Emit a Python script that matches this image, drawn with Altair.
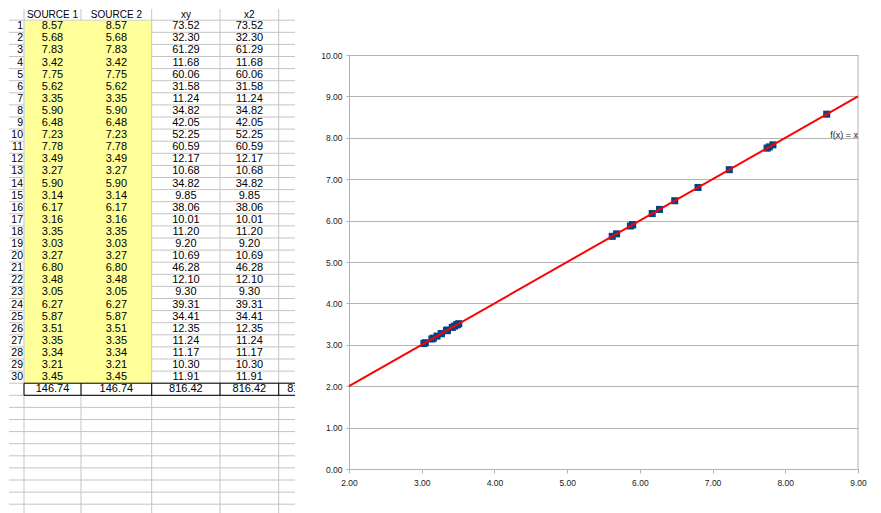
import altair as alt
import pandas as pd

# ---------------- data ----------------
row_numbers = list(range(1, 31))
source1 = [8.57, 5.68, 7.83, 3.42, 7.75, 5.62, 3.35, 5.90, 6.48, 7.23,
           7.78, 3.49, 3.27, 5.90, 3.14, 6.17, 3.16, 3.35, 3.03, 3.27,
           6.80, 3.48, 3.05, 6.27, 5.87, 3.51, 3.35, 3.34, 3.21, 3.45]
source2 = [8.57, 5.68, 7.83, 3.42, 7.75, 5.62, 3.35, 5.90, 6.48, 7.23,
           7.78, 3.49, 3.27, 5.90, 3.14, 6.17, 3.16, 3.35, 3.03, 3.27,
           6.80, 3.48, 3.05, 6.27, 5.87, 3.51, 3.35, 3.34, 3.21, 3.45]
xy = [73.52, 32.30, 61.29, 11.68, 60.06, 31.58, 11.24, 34.82, 42.05, 52.25,
      60.59, 12.17, 10.68, 34.82, 9.85, 38.06, 10.01, 11.20, 9.20, 10.69,
      46.28, 12.10, 9.30, 39.31, 34.41, 12.35, 11.24, 11.17, 10.30, 11.91]
x2 = [73.52, 32.30, 61.29, 11.68, 60.06, 31.58, 11.24, 34.82, 42.05, 52.25,
      60.59, 12.17, 10.68, 34.82, 9.85, 38.06, 10.01, 11.20, 9.20, 10.69,
      46.28, 12.10, 9.30, 39.31, 34.41, 12.35, 11.24, 11.17, 10.30, 11.91]
headers = ["SOURCE 1", "SOURCE 2", "xy", "x2"]
totals = [146.74, 146.74, 816.42, 816.42, 816.42]
x_ticks = [2, 3, 4, 5, 6, 7, 8, 9]
y_ticks = [0, 1, 2, 3, 4, 5, 6, 7, 8, 9, 10]
trend_label = "f(x) = x"

# ---------------- layout (spreadsheet, pixels) ----------------
FONT = "Liberation Sans"
TW, TH = 286, 505
col_edges = [15, 72, 142.7, 211, 269.7]
col_centers = [43.5, 107.4, 176.9, 240.4, 295]
rownum_x = 14
row_top, row_h = 11.2, 12.1
header_y = 5.5
b30 = row_top + 30 * row_h
b31 = row_top + 31 * row_h

xs = alt.Scale(domain=[0, TW], nice=False, zero=False)
ys = alt.Scale(domain=[0, TH], nice=False, zero=False, reverse=True)

def enc(**kw):
    out = {}
    for ch, f in kw.items():
        if ch in ("x", "x2"):
            out[ch] = alt.X(f + ":Q", scale=xs, axis=None) if ch == "x" else alt.X2(f)
        else:
            out[ch] = alt.Y(f + ":Q", scale=ys, axis=None) if ch == "y" else alt.Y2(f)
    return out

# horizontal grid lines
hg = pd.DataFrame({"y": [row_top + k * row_h for k in range(0, 41)]})
hgrid = alt.Chart(hg).mark_rule(color="#c4c4c4", strokeWidth=1).encode(
    x=alt.value(0), x2=alt.value(TW), **enc(y="y"))

# vertical grid segments (middle line of the yellow block hidden)
seg = []
for e in col_edges:
    if e == 72:
        seg.append({"x": e, "y": 0, "y2": row_top})
        seg.append({"x": e, "y": b30, "y2": TH})
    else:
        seg.append({"x": e, "y": 0, "y2": TH})
vgrid = alt.Chart(pd.DataFrame(seg)).mark_rule(color="#c4c4c4", strokeWidth=1).encode(
    **enc(x="x", y="y", y2="y2"))

yellow = alt.Chart(pd.DataFrame([{"x": col_edges[0] + 0.5, "x2": col_edges[2] - 0.5,
                                  "y": row_top + 0.5, "y2": b30}])).mark_rect(
    color="#ffff99").encode(**enc(x="x", x2="x2", y="y", y2="y2"))

# total row borders
bd = [{"x": col_edges[0], "x2": TW, "y": b30, "y2": b30},
      {"x": col_edges[0], "x2": TW, "y": b31, "y2": b31}]
for e in col_edges:
    bd.append({"x": e, "x2": e, "y": b30, "y2": b31})
borders = alt.Chart(pd.DataFrame(bd)).mark_rule(color="#000000", strokeWidth=1).encode(
    **enc(x="x", x2="x2", y="y", y2="y2"))

# texts
hdr = pd.DataFrame({"x": col_centers[:4], "y": [header_y] * 4, "t": headers})
hdr_text = alt.Chart(hdr).mark_text(font=FONT, fontSize=10, color="#000",
                                    baseline="middle", align="center").encode(
    text="t:N", **enc(x="x", y="y"))

cells = []
for i in range(30):
    yc = row_top + (i + 0.5) * row_h
    for c, col in enumerate([source1, source2, xy, x2]):
        cells.append({"x": col_centers[c], "y": yc, "t": f"{col[i]:.2f}"})
cell_text = alt.Chart(pd.DataFrame(cells)).mark_text(
    font=FONT, fontSize=11, color="#000", baseline="middle", align="center").encode(
    text="t:N", **enc(x="x", y="y"))

rn = pd.DataFrame({"x": [rownum_x] * 30,
                   "y": [row_top + (i + 0.5) * row_h for i in range(30)],
                   "t": [str(r) for r in row_numbers]})
rn_text = alt.Chart(rn).mark_text(font=FONT, fontSize=10.5, color="#000",
                                  baseline="middle", align="right").encode(
    text="t:N", **enc(x="x", y="y"))

tot = pd.DataFrame({"x": col_centers, "y": [row_top + 30.5 * row_h] * 5,
                    "t": [f"{v:.2f}" for v in totals]})
tot_text = alt.Chart(tot).mark_text(font=FONT, fontSize=11, color="#000",
                                    baseline="middle", align="center", clip=True).encode(
    text="t:N", **enc(x="x", y="y"))

table = alt.layer(hgrid, yellow, vgrid, borders, hdr_text, cell_text, rn_text,
                  tot_text).properties(width=TW, height=TH)

# ---------------- scatter chart ----------------
PW, PH, PTOP = 509, 460, 46
GRID = "#b3b3b3"
pts = pd.DataFrame({"s1": source1, "s2": source2})
xsc = alt.Scale(domain=[2, 9], nice=False, zero=False)
ysc = alt.Scale(domain=[0, 10], nice=False, zero=False, range=[PH, PTOP])

xaxis = alt.Axis(values=x_ticks, format=".2f", title=None, grid=False,
                 domainColor=GRID, tickColor=GRID, tickSize=4, labelFlush=False,
                 labelFont=FONT, labelFontSize=8.5, labelPadding=5, labelColor="#1a1a1a")
yaxis = alt.Axis(values=y_ticks, format=".2f", title=None, grid=True, gridColor=GRID,
                 domainColor=GRID, tickColor=GRID, tickSize=3,
                 labelFont=FONT, labelFontSize=8.5, labelPadding=4, labelColor="#1a1a1a")

points = alt.Chart(pts).mark_point(shape="square", filled=True, size=50,
                                   color="#004586", opacity=1).encode(
    x=alt.X("s1:Q", scale=xsc, axis=xaxis),
    y=alt.Y("s2:Q", scale=ysc, axis=yaxis))

trend = alt.Chart(pts).transform_regression(
    "s1", "s2", method="linear", extent=[2, 9]).mark_line(
    color="#ff0000", strokeWidth=2).encode(
    x=alt.X("s1:Q", scale=xsc), y=alt.Y("s2:Q", scale=ysc))

right = alt.Chart(pd.DataFrame([{"s1": 9, "s2": 0, "s2b": 10}])).mark_rule(
    color=GRID, strokeWidth=1).encode(
    x=alt.X("s1:Q", scale=xsc), y=alt.Y("s2:Q", scale=ysc), y2="s2b:Q")

lbl = alt.Chart(pd.DataFrame([{"s1": 9, "s2": 8.06, "t": trend_label}])).mark_text(
    font=FONT, fontSize=9, color="#1a1a1a", align="right", baseline="middle").encode(
    x=alt.X("s1:Q", scale=xsc), y=alt.Y("s2:Q", scale=ysc), text="t:N")

chart_panel = alt.layer(right, points, trend, lbl).properties(width=PW, height=PH)

chart = alt.HConcatChart(hconcat=[table, chart_panel], spacing=54, bounds="flush").properties(
    padding=0).configure_view(stroke=None)

chart.save("out.html", embed_options={"renderer": "svg", "actions": False})
